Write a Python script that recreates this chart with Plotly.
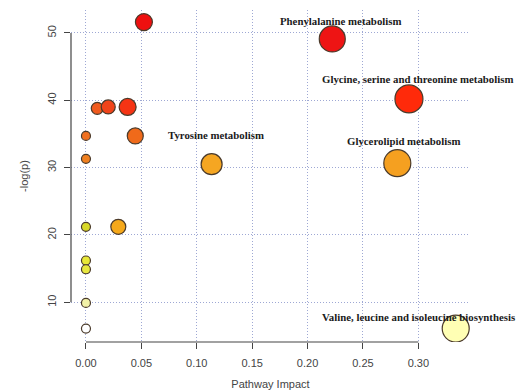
import plotly.graph_objects as go

# Data
pathway = ["p1", "p2", "p3", "p4", "p5", "p6", "p7", "p8", "p9", "p10", "p11", "p12", "p13",
           "Phenylalanine metabolism",
           "Glycine, serine and threonine metabolism",
           "Tyrosine metabolism",
           "Glycerolipid metabolism",
           "Valine, leucine and isoleucine biosynthesis"]
impact = [0.0523, 0.0102, 0.0201, 0.0376, 0.0, 0.0445, 0.0, 0.0, 0.0292, 0.0, 0.0, 0.0, 0.0,
          0.2223, 0.2915, 0.1134, 0.2810, 0.3337]
logp = [51.6, 38.8, 39.0, 39.0, 34.7, 34.7, 31.3, 21.2, 21.2, 16.2, 14.9, 9.9, 6.1,
        49.1, 40.2, 30.5, 30.65, 6.1]
labelled = [False] * 13 + [True] * 5
x_ticks = [0.0, 0.05, 0.10, 0.15, 0.20, 0.25, 0.30]
y_ticks = [10, 20, 30, 40, 50]

# Styles
sizes = [17, 12, 14, 17, 9, 16, 9, 9, 15, 9, 9, 9, 9, 26, 28, 21, 27, 27]
colors = ["#EE1010", "#F05A1E", "#F0441A", "#F53414", "#F07020", "#F06A1A", "#F08020",
          "#D8D828", "#F5A81A", "#E8E838", "#E8E840", "#F2F2A8", "#FFFFFF",
          "#EE1414", "#FF2A0A", "#F5A622", "#F5A020", "#FFFFB4"]
label_shift = {
    "Phenylalanine metabolism": (8, 18),
    "Glycine, serine and threonine metabolism": (9, 20),
    "Tyrosine metabolism": (4, 29),
    "Glycerolipid metabolism": (6, 22),
    "Valine, leucine and isoleucine biosynthesis": (-37, 12),
}

fig = go.Figure()
fig.add_trace(go.Scatter(
    x=impact, y=logp, mode="markers",
    marker=dict(size=sizes, color=colors, line=dict(color="#4a3a2a", width=1.2), opacity=1),
    hoverinfo="text", text=pathway, showlegend=False,
))

for name, xv, yv, lab in zip(pathway, impact, logp, labelled):
    if lab:
        dx, dy = label_shift[name]
        fig.add_annotation(x=xv, y=yv, text="<b>" + name + "</b>", showarrow=False,
                           xshift=dx, yshift=dy,
                           font=dict(family="Liberation Serif", size=10.8, color="#1a1a1a"))

grid_col = "#9ea8d4"
fig.update_xaxes(range=[-0.0135, 0.3466], tickvals=x_ticks, tickformat=".2f",
                 showgrid=True, gridcolor=grid_col, griddash="1px,2px", gridwidth=1,
                 zeroline=False, showline=False, automargin=False,
                 ticks="outside", ticklen=6, tickcolor="#444", tickwidth=1,
                 ticklabelstandoff=5,
                 tickfont=dict(family="Liberation Sans", size=11, color="#444"),
                 title=dict(text="Pathway Impact", standoff=12,
                            font=dict(family="Liberation Sans", size=11, color="#444")))
fig.update_yaxes(range=[4.1, 53.4], tickvals=y_ticks, tickangle=-90,
                 showgrid=True, gridcolor=grid_col, griddash="1px,2px", gridwidth=1,
                 zeroline=False, showline=False, automargin=False,
                 ticks="outside", ticklen=6, tickcolor="#444", tickwidth=1,
                 ticklabelstandoff=4,
                 tickfont=dict(family="Liberation Sans", size=11, color="#444"),
                 title=dict(text="-log(p)", standoff=14,
                            font=dict(family="Liberation Sans", size=11, color="#444")))

# R-style axis lines spanning first to last tick
fig.add_shape(type="line", xref="x", yref="paper", x0=x_ticks[0], x1=x_ticks[-1], y0=0, y1=0,
              line=dict(color="#444", width=1.2))
fig.add_shape(type="line", xref="paper", yref="y", x0=0, x1=0, y0=y_ticks[0], y1=y_ticks[-1],
              line=dict(color="#444", width=1.2))

fig.update_layout(width=522, height=390, margin=dict(l=71, r=52, t=10, b=48),
                  plot_bgcolor="white", paper_bgcolor="white")
# remove the default page margin so the figure fills the window exactly
fig.write_html("out.html", config={"displayModeBar": False},
               post_script="document.body.style.margin='0';")
